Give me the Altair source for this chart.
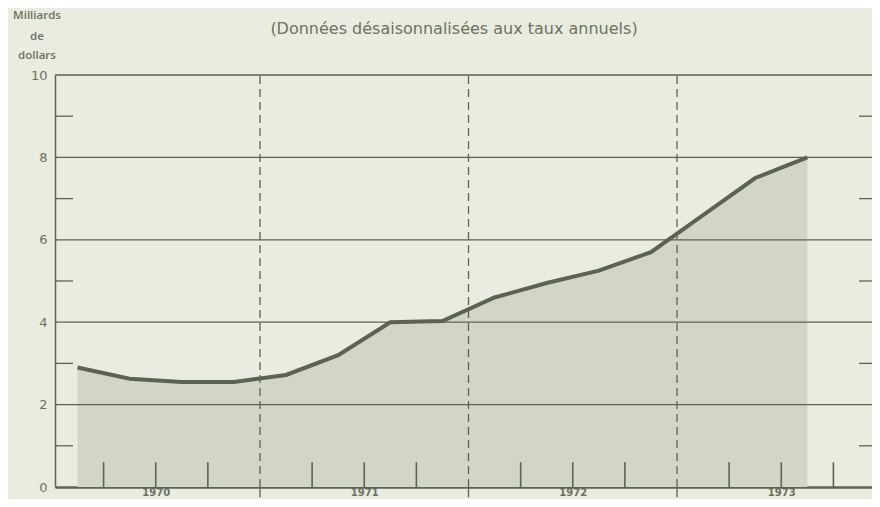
import altair as alt
import pandas as pd

# Quarterly data (mid-quarter positions), billions of dollars, SA annual rates
quarter_pos = [1970.125, 1970.375, 1970.625, 1970.875,
               1971.125, 1971.375, 1971.625, 1971.875,
               1972.125, 1972.375, 1972.625, 1972.875,
               1973.125, 1973.375, 1973.625]
values = [2.90, 2.63, 2.55, 2.55,
          2.72, 3.20, 4.00, 4.03,
          4.60, 4.95, 5.25, 5.70,
          6.60, 7.50, 8.00]

year_bounds = [1971, 1972, 1973]
quarter_ticks = [1970.25, 1970.5, 1970.75,
                 1971.25, 1971.5, 1971.75,
                 1972.25, 1972.5, 1972.75,
                 1973.25, 1973.5, 1973.75]
year_label_pos = [1970.5, 1971.5, 1972.5, 1973.5]
grid_values = [2, 4, 6, 8, 10]
minor_values = [1, 3, 5, 7, 9]
y_labels = [0, 2, 4, 6, 8, 10]

INK = "#5d6352"
TEXT = "#6c7262"
BG = "#e9ecdf"
FILL = "#d2d7c5"
FONT = "DejaVu Sans"
FONT2 = "Open Sans"

W, H = 817, 412

df = pd.DataFrame({"t": quarter_pos, "v": values})
xs = alt.Scale(domain=[1970.017, 1973.935], nice=False, zero=False)
ys = alt.Scale(domain=[0, 10], nice=False, zero=True)

base = alt.Chart(df)

area = base.mark_area(color=FILL, opacity=1).encode(
    x=alt.X("t:Q", scale=xs,
            axis=alt.Axis(values=year_label_pos, labelExpr="'' + floor(datum.value)",
                          ticks=False, grid=False, title=None, domain=True,
                          domainColor=INK, domainWidth=2.5, labelColor=TEXT,
                          labelFont=FONT, labelFontSize=10, labelFontWeight="bold",
                          labelBaseline="top", labelPadding=0)),
    y=alt.Y("v:Q", scale=ys,
            axis=alt.Axis(values=y_labels, ticks=False, grid=False, title=None,
                          domain=True, domainColor=INK, domainWidth=1.5,
                          labelColor=TEXT, labelFont=FONT, labelFontSize=13,
                          labelFontWeight="normal", labelPadding=8)),
)

grid = alt.Chart(pd.DataFrame({"g": grid_values})).mark_rule(
    color=INK, strokeWidth=1.3).encode(y=alt.Y("g:Q", scale=ys))

minor_left = alt.Chart(pd.DataFrame({"m": minor_values})).mark_rule(
    color=INK, strokeWidth=1.3).encode(
    y=alt.Y("m:Q", scale=ys), x=alt.value(0), x2=alt.value(18))
minor_right = alt.Chart(pd.DataFrame({"m": minor_values})).mark_rule(
    color=INK, strokeWidth=1.3).encode(
    y=alt.Y("m:Q", scale=ys), x=alt.value(W - 13), x2=alt.value(W))

ydf = pd.DataFrame({"yb": year_bounds, "top": [10] * 3, "bot": [0] * 3,
                    "under": [-0.25] * 3})
dashed = alt.Chart(ydf).mark_rule(color=INK, strokeWidth=1.3,
                                  strokeDash=[8, 5]).encode(
    x=alt.X("yb:Q", scale=xs), y=alt.Y("bot:Q", scale=ys), y2="top:Q")
under = alt.Chart(ydf).mark_rule(color=INK, strokeWidth=1.3).encode(
    x=alt.X("yb:Q", scale=xs), y=alt.Y("under:Q", scale=ys), y2="bot:Q")

qdf = pd.DataFrame({"q": quarter_ticks, "lo": [0] * len(quarter_ticks),
                    "hi": [0.6] * len(quarter_ticks)})
qticks = alt.Chart(qdf).mark_rule(color=INK, strokeWidth=1.6).encode(
    x=alt.X("q:Q", scale=xs), y=alt.Y("lo:Q", scale=ys), y2="hi:Q")

line = base.mark_line(color=INK, strokeWidth=4).encode(
    x=alt.X("t:Q", scale=xs), y=alt.Y("v:Q", scale=ys))

dummy = alt.Chart(pd.DataFrame({"a": [0]}))


def label(txt, x, y, size, weight="bold", font=FONT2):
    return dummy.mark_text(text=txt, font=font, fontSize=size, fontWeight=weight,
                           color=TEXT, align="center", baseline="middle").encode(
        x=alt.value(x), y=alt.value(y))


titles = [
    label("Milliards", -18, -59, 11.5, 600),
    label("de", -18, -38, 11.5, 600),
    label("dollars", -18, -19, 11.5, 600),
    label("(Données désaisonnalisées aux taux annuels)", 399, -46, 16, "normal", FONT),
]

chart = alt.layer(area, grid, dashed, under, qticks, minor_left, minor_right, line,
                  *titles).properties(
    width=W, height=H,
    autosize=alt.AutoSizeParams(type="none"),
    padding={"left": 47, "top": 67, "right": 0, "bottom": 12},
    background=BG,
).configure_view(stroke=None)

chart.save("out.html", embed_options={"renderer": "svg", "actions": False})
